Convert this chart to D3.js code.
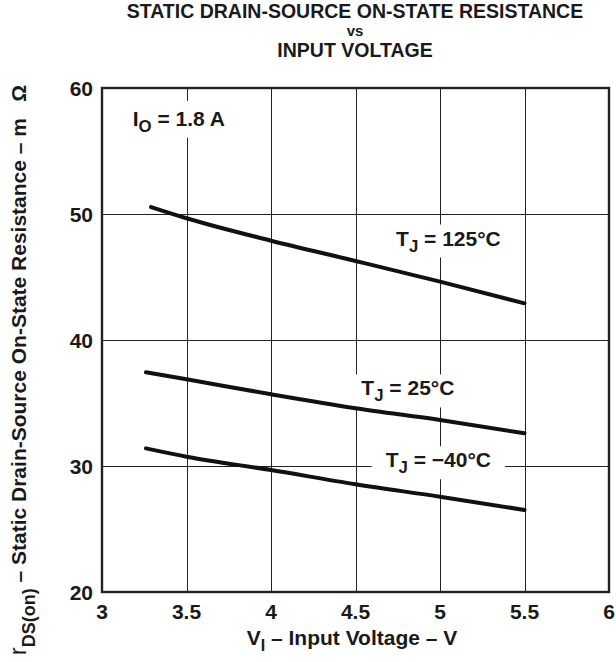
<!DOCTYPE html>
<meta charset="utf-8">
<style>
body { margin: 0; background: #fff; }
svg { font-family: "Liberation Sans", Arial, sans-serif; font-weight: bold; fill: #1a1a1a; }
.grid line { stroke: #222; stroke-width: 1; shape-rendering: crispEdges; }
.tick-label { font-size: 21px; }
.curve { fill: none; stroke: #111; stroke-width: 4px; stroke-linecap: round; }
.frame { fill: none; stroke: #222; stroke-width: 2.4px; }
</style>
<body>
<div id="chart"></div>
<script src="https://cdn.jsdelivr.net/npm/d3@7"></script>
<script>
// values
var voltageHot = [3.29, 3.5, 4, 4.5, 5, 5.5];
var voltage = [3.26, 3.5, 4, 4.5, 5, 5.5];
var r125 = [50.55, 49.66, 47.88, 46.27, 44.63, 42.91];
var r25 = [37.44, 36.88, 35.69, 34.58, 33.65, 32.6];
var rMinus40 = [31.4, 30.74, 29.68, 28.55, 27.56, 26.51];
var xTicks = [3, 3.5, 4, 4.5, 5, 5.5, 6];
var yTicks = [20, 30, 40, 50, 60];
var curveLabels = [
    { temp: "125°C", v: 5.05, r: 47.5 },
    { temp: "25°C", v: 4.81, r: 35.6 },
    { temp: "\u221240°C", v: 4.99, r: 29.9 }
];

var width = 616, height = 662,
    margin = { top: 88, right: 7, bottom: 70, left: 102 },
    innerW = width - margin.left - margin.right,
    innerH = height - margin.top - margin.bottom;

var x = d3.scaleLinear().domain([3, 6]).range([0, innerW]);
var y = d3.scaleLinear().domain([20, 60]).range([innerH, 0]);

var svg = d3.select("#chart").append("svg")
    .attr("width", width)
    .attr("height", height);

// title, three separate lines
var tx = 355;
svg.append("text").attr("x", tx).attr("y", 18).attr("text-anchor", "middle")
    .attr("font-size", 19.5).text("STATIC DRAIN-SOURCE ON-STATE RESISTANCE");
svg.append("text").attr("x", tx).attr("y", 36).attr("text-anchor", "middle")
    .attr("font-size", 15).text("vs");
svg.append("text").attr("x", tx).attr("y", 57).attr("text-anchor", "middle")
    .attr("font-size", 19.5).text("INPUT VOLTAGE");

var g = svg.append("g")
    .attr("transform", "translate(" + margin.left + "," + margin.top + ")");

// grid
var grid = g.append("g").attr("class", "grid");
grid.selectAll(".vx").data(xTicks.slice(1, -1)).enter().append("line")
    .attr("x1", function(d) { return Math.round(x(d)) + 0.5; })
    .attr("x2", function(d) { return Math.round(x(d)) + 0.5; })
    .attr("y1", 0).attr("y2", innerH);
grid.selectAll(".hy").data(yTicks.slice(1, -1)).enter().append("line")
    .attr("y1", function(d) { return Math.round(y(d)) + 0.5; })
    .attr("y2", function(d) { return Math.round(y(d)) + 0.5; })
    .attr("x1", 0).attr("x2", innerW);

// tick labels
g.selectAll(".xl").data(xTicks).enter().append("text")
    .attr("class", "tick-label")
    .attr("x", function(d) { return x(d); })
    .attr("y", innerH + 27)
    .attr("text-anchor", "middle")
    .text(function(d) { return d; });
g.selectAll(".yl").data(yTicks).enter().append("text")
    .attr("class", "tick-label")
    .attr("x", -9)
    .attr("y", function(d) { return y(d) + 7.5; })
    .attr("text-anchor", "end")
    .text(function(d) { return d; });

// labels with white backing
function subLabel(parent, main, sub, rest, px, py, size) {
    var t = parent.append("text").attr("x", px).attr("y", py).attr("font-size", size);
    t.append("tspan").text(main);
    t.append("tspan").attr("dy", 6).attr("font-size", size * 0.8).text(sub);
    t.append("tspan").attr("dy", -6).text(rest);
    return t;
}

var labelLayer = g.append("g");
curveLabels.forEach(function(d) {
    var t = subLabel(labelLayer, "T", "J", " = " + d.temp, x(d.v), y(d.r), 21)
        .attr("text-anchor", "middle");
    var b = t.node().getBBox();
    labelLayer.insert("rect", "text")
        .attr("x", b.x - 14).attr("y", b.y - 2)
        .attr("width", b.width + 28).attr("height", b.height + 4)
        .attr("fill", "#fff");
});
var io = subLabel(labelLayer, "I", "O", " = 1.8 A", x(3.455), y(57.0), 21)
    .attr("text-anchor", "middle");
var ib = io.node().getBBox();
labelLayer.insert("rect", "text")
    .attr("x", ib.x - 4).attr("y", ib.y - 6)
    .attr("width", ib.width + 8).attr("height", ib.height + 8)
    .attr("fill", "#fff");

// curves
var line = d3.line()
    .x(function(d) { return x(d[0]); })
    .y(function(d) { return y(d[1]); })
    .curve(d3.curveMonotoneX);
[[voltageHot, r125], [voltage, r25], [voltage, rMinus40]].forEach(function(s) {
    g.append("path")
        .attr("class", "curve")
        .attr("d", line(s[0].map(function(v, i) { return [v, s[1][i]]; })));
});

// frame
g.append("rect").attr("class", "frame")
    .attr("x", 0).attr("y", 0).attr("width", innerW).attr("height", innerH);

// axis titles
var xt = svg.append("text")
    .attr("x", 352)
    .attr("y", 645)
    .attr("text-anchor", "middle")
    .attr("font-size", 21);
xt.append("tspan").text("V");
xt.append("tspan").attr("dy", 6).attr("font-size", 16).text("I");
xt.append("tspan").attr("dy", -6).text(" \u2013 Input Voltage \u2013 V");

var yt = svg.append("text")
    .attr("transform", "translate(26,655) rotate(-90)")
    .attr("text-anchor", "start")
    .attr("font-size", 21);
yt.append("tspan").attr("font-weight", "normal").attr("font-size", 23).text("r");
yt.append("tspan").attr("dy", 9).attr("font-size", 18).text("DS(on)");
yt.append("tspan").attr("dy", -9).text(" \u2013 Static Drain-Source On-State Resistance \u2013 m \u2002\u03A9");
</script>
</body>
